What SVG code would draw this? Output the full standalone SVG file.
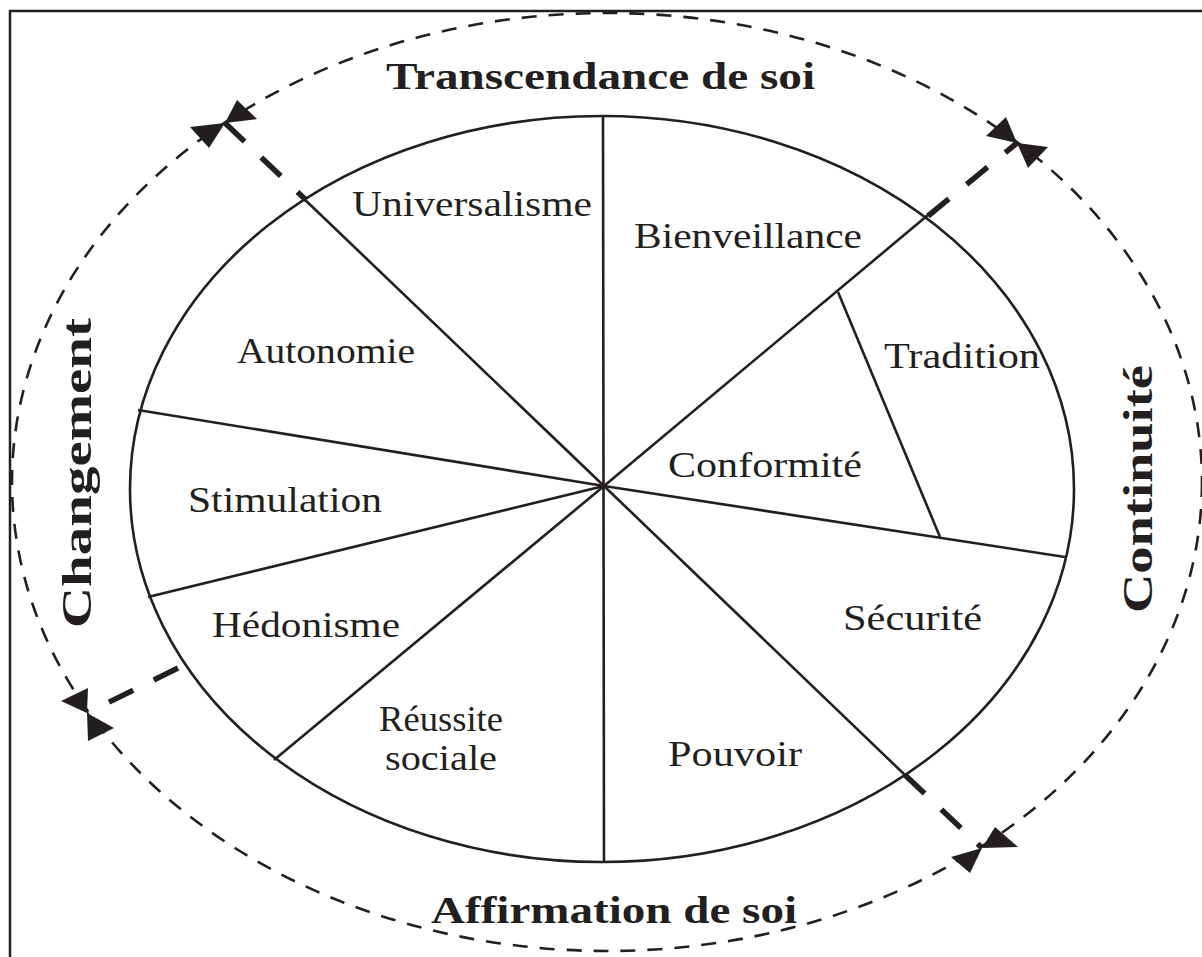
<svg xmlns="http://www.w3.org/2000/svg" width="1202" height="957" viewBox="0 0 1202 957">
<style>
.lbl{font-family:"Liberation Serif","Times New Roman",serif;font-size:36px;fill:#231f20}
.ttl{font-family:"Liberation Serif","Times New Roman",serif;font-size:37px;font-weight:bold;fill:#231f20}
.vt{font-family:"Liberation Serif","Times New Roman",serif;font-size:42px;font-weight:bold;fill:#231f20}
.ln{stroke:#231f20;stroke-width:2.6;fill:none}
.thick{stroke:#231f20;stroke-width:5.5;fill:none;stroke-dasharray:27 23}
.head{fill:#231f20}
</style>
<rect x="10" y="11" width="1200" height="960" fill="#ffffff" stroke="#231f20" stroke-width="2.5"/>
<g id="outer-ring">
<ellipse cx="607" cy="482" rx="595" ry="469" fill="none" stroke="#231f20" stroke-width="2.6" stroke-dasharray="15 12"/>
</g>
<g id="wheel">
<ellipse cx="602" cy="489" rx="472" ry="373" class="ln"/>
</g>
<g id="connectors">
<line class="ln" x1="603" y1="117" x2="604" y2="862"/>
<line class="ln" x1="604" y1="486" x2="300" y2="195"/>
<line class="ln" x1="604" y1="486" x2="928" y2="215"/>
<line class="ln" x1="604" y1="486" x2="138" y2="410"/>
<line class="ln" x1="604" y1="486" x2="148" y2="597"/>
<line class="ln" x1="604" y1="486" x2="274" y2="760"/>
<line class="ln" x1="604" y1="486" x2="905" y2="775"/>
<line class="ln" x1="604" y1="486" x2="1065" y2="557"/>
<line class="ln" x1="838" y1="292" x2="940" y2="537"/>
<path class="thick" d="M225 123 L306 200"/>
<path class="thick" d="M928 216 L1017 143"/>
<path class="thick" d="M178 668 L87 713"/>
<path class="thick" d="M905 775 L982 848"/>
<polygon class="head" points="190,127 209,148 225,123"/>
<polygon class="head" points="237,100 257,119 225,123"/>
<polygon class="head" points="986,136 1006,117 1017,143"/>
<polygon class="head" points="1048,147 1028,168 1017,143"/>
<polygon class="head" points="61,701 88,688 87,713"/>
<polygon class="head" points="114,728 88,741 87,713"/>
<polygon class="head" points="951,857 970,873 982,848"/>
<polygon class="head" points="995,827 1018,847 982,848"/>
</g>
<g id="universalisme"><text class="lbl" x="352" y="216" textLength="240" lengthAdjust="spacingAndGlyphs">Universalisme</text></g>
<g id="bienveillance"><text class="lbl" x="634" y="248" textLength="228" lengthAdjust="spacingAndGlyphs">Bienveillance</text></g>
<g id="autonomie"><text class="lbl" x="237" y="363" textLength="178" lengthAdjust="spacingAndGlyphs">Autonomie</text></g>
<g id="tradition"><text class="lbl" x="884" y="368" textLength="156" lengthAdjust="spacingAndGlyphs">Tradition</text></g>
<g id="conformite"><text class="lbl" x="668" y="477" textLength="194" lengthAdjust="spacingAndGlyphs">Conformité</text></g>
<g id="stimulation"><text class="lbl" x="188" y="512" textLength="194" lengthAdjust="spacingAndGlyphs">Stimulation</text></g>
<g id="hedonisme"><text class="lbl" x="212" y="637" textLength="188" lengthAdjust="spacingAndGlyphs">Hédonisme</text></g>
<g id="securite"><text class="lbl" x="843" y="630" textLength="139" lengthAdjust="spacingAndGlyphs">Sécurité</text></g>
<g id="reussite"><text class="lbl" x="379" y="731" textLength="124" lengthAdjust="spacingAndGlyphs">Réussite</text><text class="lbl" x="385" y="770" textLength="112" lengthAdjust="spacingAndGlyphs">sociale</text></g>
<g id="pouvoir"><text class="lbl" x="668" y="766" textLength="134" lengthAdjust="spacingAndGlyphs">Pouvoir</text></g>
<g id="transcendance"><text class="ttl" x="386" y="89" textLength="429" lengthAdjust="spacingAndGlyphs">Transcendance de soi</text></g>
<g id="affirmation"><text class="ttl" x="431" y="923" textLength="366" lengthAdjust="spacingAndGlyphs">Affirmation de soi</text></g>
<g id="changement"><text class="vt" transform="translate(91,628) rotate(-90)" textLength="310" lengthAdjust="spacingAndGlyphs">Changement</text></g>
<g id="continuite"><text class="vt" transform="translate(1152,613) rotate(-90)" textLength="248" lengthAdjust="spacingAndGlyphs">Continuité</text></g>
</svg>
